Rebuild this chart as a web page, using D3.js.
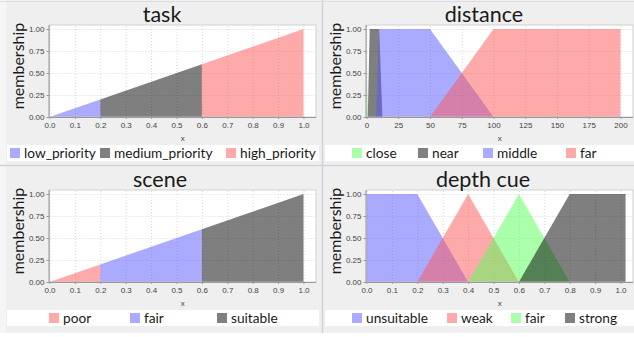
<!DOCTYPE html>
<html>
<head>
<meta charset="utf-8">
<script src="https://cdn.jsdelivr.net/npm/d3@7"></script>
<style>
  body { margin: 0; background: #fff; }
  svg { display: block; }
  .tick-label { font-family: 'Liberation Sans', sans-serif; font-size: 8px; fill: #444; }
  .title { font-family: Lato, sans-serif; font-size: 21.5px; fill: #1a1a1a; }
  .y-label { font-family: Lato, sans-serif; font-size: 16px; fill: #1a1a1a; }
  .legend-text { font-family: Lato, sans-serif; font-size: 13.7px; fill: #1a1a1a; }
</style>
</head>
<body>
<svg width="634" height="337"></svg>
<script>
// ---- data (membership functions as polygons of [x, membership]) ----
var taskLabels = ['low_priority', 'medium_priority', 'high_priority'];
var taskShapes = [
    [[0, 0], [0.2, 0.2], [0.2, 0]],
    [[0.2, 0], [0.2, 0.2], [0.6, 0.6], [0.6, 0]],
    [[0.6, 0], [0.6, 0.6], [1.0, 1.0], [1.0, 0]]
];

var distanceLabels = ['close', 'near', 'middle', 'far'];
var distanceShapes = [
    [[0, 0], [0, 0.6], [1.2, 0]],
    [[1, 0], [2.5, 1], [10, 1], [12.5, 0]],
    [[7.5, 0], [10, 1], [50, 1], [100, 0]],
    [[50, 0], [100, 1], [200, 1], [200, 0]]
];

var sceneLabels = ['poor', 'fair', 'suitable'];
var sceneShapes = [
    [[0, 0], [0.2, 0.2], [0.2, 0]],
    [[0.2, 0], [0.2, 0.2], [0.6, 0.6], [0.6, 0]],
    [[0.6, 0], [0.6, 0.6], [1.0, 1.0], [1.0, 0]]
];

var depthLabels = ['unsuitable', 'weak', 'fair', 'strong'];
var depthShapes = [
    [[0, 0], [0, 1], [0.2, 1], [0.4, 0]],
    [[0.2, 0], [0.4, 1], [0.6, 0]],
    [[0.4, 0], [0.6, 1], [0.8, 0]],
    [[0.6, 0], [0.8, 1], [1.02, 1], [1.02, 0]]
];

var unitTicks = [0, 0.1, 0.2, 0.3, 0.4, 0.5, 0.6, 0.7, 0.8, 0.9, 1.0];
var distanceTicks = [0, 25, 50, 75, 100, 125, 150, 175, 200];
var membershipTicks = [0, 0.25, 0.5, 0.75, 1.0];

// ---- styling ----
var colorMap = {blue: '#5555ff', red: '#ff5555', green: '#55ff55', gray: '#000000'};
var swatchMap = {blue: '#aaaaff', red: '#ffaaaa', green: '#aaffaa', gray: '#808080'};

var svg = d3.select('svg');

// background panels
svg.append('rect').attr('x', 0).attr('y', 0).attr('width', 634).attr('height', 333).attr('fill', '#efefef');
svg.append('rect').attr('x', 0).attr('y', 0).attr('width', 6).attr('height', 333).attr('fill', '#f6f6f6');
svg.append('line').attr('x1', 322.5).attr('x2', 322.5).attr('y1', 0).attr('y2', 333)
    .attr('stroke', '#d2d2da').attr('stroke-width', 1.5);
svg.append('line').attr('x1', 0).attr('x2', 634).attr('y1', 165.5).attr('y2', 165.5)
    .attr('stroke', '#d2d2da').attr('stroke-width', 1.5);
svg.append('line').attr('x1', 0).attr('x2', 634).attr('y1', 1.5).attr('y2', 1.5)
    .attr('stroke', '#dcdce2').attr('stroke-width', 1);

var panels = [
    {title: 'task', labels: taskLabels, shapes: taskShapes, colors: ['blue', 'gray', 'red'],
     ticks: unitTicks, fmt: '.1f', xRef: 1.0, ox: 0, oy: 0, titleX: 162,
     legendX: [10, 100, 226], bandX: [7, 319]},
    {title: 'distance', labels: distanceLabels, shapes: distanceShapes, colors: ['green', 'gray', 'blue', 'red'],
     ticks: distanceTicks, fmt: 'd', xRef: 200, ox: 317, oy: 0, titleX: 484,
     legendX: [352, 418, 483, 566], bandX: [325, 634]},
    {title: 'scene', labels: sceneLabels, shapes: sceneShapes, colors: ['red', 'blue', 'gray'],
     ticks: unitTicks, fmt: '.1f', xRef: 1.0, ox: 0, oy: 165, titleX: 160,
     legendX: [49, 130, 217], bandX: [7, 319]},
    {title: 'depth cue', labels: depthLabels, shapes: depthShapes, colors: ['blue', 'red', 'green', 'gray'],
     ticks: unitTicks, fmt: '.1f', xRef: 1.0, ox: 317, oy: 165, titleX: 483,
     legendX: [352, 447, 511, 565], bandX: [325, 634]}
];

panels.forEach(function(p) {
    var g = svg.append('g');
    var left = p.ox + 49.5, right = p.ox + 316;
    var top = p.oy + 25, bottom = p.oy + 117;

    var xScale = d3.scaleLinear().domain([0, p.xRef]).range([left, p.ox + 303.5]);
    var yScale = d3.scaleLinear().domain([0, 1]).range([bottom, p.oy + 29]);

    // plot background
    g.append('rect').attr('x', left).attr('y', top)
        .attr('width', right - left).attr('height', bottom - top)
        .attr('fill', '#ffffff');

    // grid lines
    var xGrid = d3.axisBottom(xScale).tickValues(p.ticks).tickSize(-(bottom - top)).tickFormat('');
    var yGrid = d3.axisLeft(yScale).tickValues(membershipTicks).tickSize(-(right - left)).tickFormat('');
    [g.append('g').attr('transform', 'translate(0,' + bottom + ')').call(xGrid),
     g.append('g').attr('transform', 'translate(' + left + ',0)').call(yGrid)].forEach(function(gg) {
        gg.select('.domain').remove();
        gg.selectAll('line').attr('stroke', '#d6d6d6').attr('stroke-dasharray', '1,2');
    });

    // membership areas
    var line = d3.line().x(function(d) { return xScale(d[0]); }).y(function(d) { return yScale(d[1]); });
    g.selectAll('.mf')
        .data(p.shapes)
        .enter().append('path')
        .attr('class', 'mf')
        .attr('d', function(d) { return line(d) + 'Z'; })
        .attr('fill', function(d, i) { return colorMap[p.colors[i]]; })
        .attr('fill-opacity', 0.5)
        .attr('stroke', 'none');

    // frame
    g.append('rect').attr('x', left).attr('y', top)
        .attr('width', right - left).attr('height', bottom - top)
        .attr('fill', 'none').attr('stroke', '#c8c8c8').attr('stroke-width', 0.8);

    // axes
    var xAxis = g.append('g').attr('transform', 'translate(0,' + bottom + ')')
        .call(d3.axisBottom(xScale).tickValues(p.ticks).tickFormat(d3.format(p.fmt)).tickSize(2).tickPadding(3));
    var yAxis = g.append('g').attr('transform', 'translate(' + left + ',0)')
        .call(d3.axisLeft(yScale).tickValues(membershipTicks).tickFormat(d3.format('.2f')).tickSize(3).tickPadding(2));
    [xAxis, yAxis].forEach(function(ax) {
        ax.select('.domain').attr('stroke', '#999');
        ax.selectAll('.tick line').attr('stroke', '#999');
        ax.selectAll('.tick text').attr('class', 'tick-label').attr('fill', null);
    });
    xAxis.select('.domain').attr('d', 'M' + left + ',0.5H' + right);
    yAxis.select('.domain').attr('d', 'M-0.5,' + top + 'V' + bottom);

    // labels
    g.append('text').attr('class', 'title')
        .attr('x', p.titleX).attr('y', p.oy + 22)
        .attr('text-anchor', 'middle').text(p.title);
    g.append('text').attr('class', 'y-label')
        .attr('transform', 'translate(' + (p.ox + 24) + ',' + (p.oy + 66) + ') rotate(-90)')
        .attr('text-anchor', 'middle').text('membership');
    g.append('text').attr('class', 'tick-label')
        .attr('x', (left + right) / 2).attr('y', p.oy + 141)
        .attr('text-anchor', 'middle').text('x');

    // legend
    g.append('rect').attr('x', p.bandX[0]).attr('y', p.oy + 145)
        .attr('width', p.bandX[1] - p.bandX[0]).attr('height', 16)
        .attr('fill', '#ffffff');
    var items = g.selectAll('.legend-item')
        .data(p.labels)
        .enter().append('g')
        .attr('class', 'legend-item')
        .attr('transform', function(d, i) { return 'translate(' + p.legendX[i] + ',' + (p.oy + 148) + ')'; });
    items.append('rect').attr('width', 10).attr('height', 10)
        .attr('fill', function(d, i) { return swatchMap[p.colors[i]]; });
    items.append('text').attr('class', 'legend-text')
        .attr('x', 14).attr('y', 10).text(function(d) { return d; });
});
</script>
</body>
</html>
